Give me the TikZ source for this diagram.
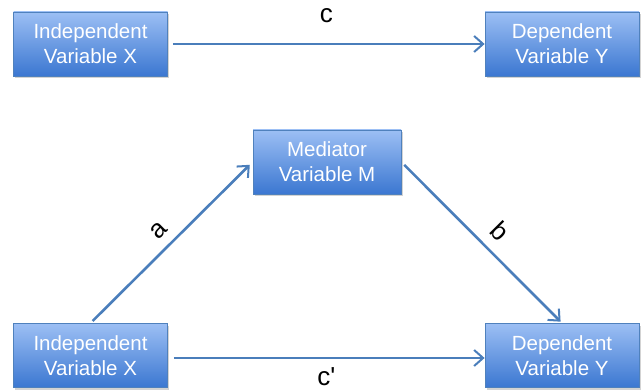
\documentclass[tikz,border=0pt]{standalone}
\usepackage{fontspec}
\setmainfont{Liberation Sans}
\usetikzlibrary{arrows.meta}
\usetikzlibrary{shadows}

\definecolor{boxtop}{HTML}{9CBFF4}
\definecolor{boxbottom}{HTML}{3B77D1}
\definecolor{boxline}{HTML}{4F81BD}
\definecolor{arrowblue}{HTML}{4A7EBB}

\tikzset{
	varbox/.style={draw=boxline, line width=0.8pt, top color=boxtop, bottom color=boxbottom,
		text=white, align=center, font=\fontsize{20.5}{25}\selectfont,
		minimum width=154pt, minimum height=64pt, inner sep=0pt,
		drop shadow={opacity=0.35, shadow xshift=1.5pt, shadow yshift=-2.5pt}},
	path/.style={draw=arrowblue, line width=2.6pt, -{Straight Barb[length=9pt, width=16pt, line width=2pt]}},
	coef/.style={font=\fontsize{26}{30}\selectfont, inner sep=0pt}
}

\begin{document}
\begin{tikzpicture}[x=1pt, y=1pt]
	\useasboundingbox (0,0) rectangle (644,390);

	% draw total effect
	\node[varbox] (indepTop) at (90.5,346) {Independent\\Variable X};
	\node[varbox] (depTop) at (562,346) {Dependent\\Variable Y};
	\draw[path, shorten <=5pt] (indepTop) -- node[coef, midway, above=20pt] {c} (depTop);

	% draw mediated model
	\node[varbox, minimum width=148pt] (mediator) at (327,228) {Mediator\\Variable M};
	\node[varbox] (indepBot) at (90.5,34.5) {Independent\\Variable X};
	\node[varbox] (depBot) at (562,34.5) {Dependent\\Variable Y};

	% a and b paths through the mediator
	\draw[path, shorten <=3pt, shorten >=4pt] (indepBot.north) -- node[coef, midway, sloped, above=9pt] {a} (mediator.west);
	\draw[path, shorten <=4pt, shorten >=2pt] (mediator.east) -- node[coef, pos=0.52, sloped, above=10pt] {b} (depBot.north);
	% direct path
	\draw[path, shorten <=6pt] ([yshift=-2.5pt]indepBot.east) -- node[coef, midway, below=8pt] {c\textquotesingle} ([yshift=-2.5pt]depBot.west);
\end{tikzpicture}
\end{document}
